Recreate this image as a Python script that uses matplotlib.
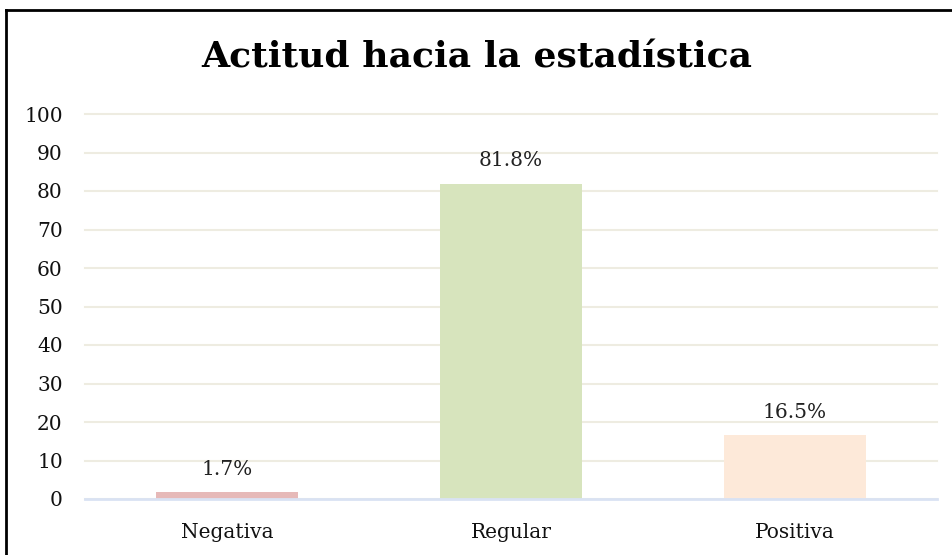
import matplotlib.pyplot as plt
from matplotlib.lines import Line2D

categories = ["Negativa", "Regular", "Positiva"]
values = [1.7, 81.8, 16.5]
labels = ["1.7%", "81.8%", "16.5%"]
colors = ["#E6B9B8", "#D7E4BD", "#FDE9D9"]
yticks = list(range(0, 101, 10))

plt.rcParams["font.family"] = ["DejaVu Serif"]

fig = plt.figure(figsize=(9.52, 5.55), dpi=100)
ax = fig.add_axes([85 / 952, 1 - 499 / 555, 852 / 952, 385 / 555])

x = range(len(categories))
ax.bar(x, values, width=0.5, color=colors, zorder=3)
for xi, v, lab in zip(x, values, labels):
    ax.annotate(lab, (xi, v), xytext=(0, 10), textcoords="offset points",
                ha="center", va="bottom", fontsize=14.5, color="#222222")

ax.set_xlim(-0.5, 2.5)
ax.set_ylim(0, 100)
ax.set_yticks(yticks)
ax.set_xticks(list(x))
ax.set_xticklabels(categories)
ax.tick_params(axis="both", length=0, labelsize=14.5, colors="#111111")
ax.tick_params(axis="y", pad=16)
ax.tick_params(axis="x", pad=17)
ax.grid(axis="y", color="#EEECE1", linewidth=1.5, zorder=0)
for gl in ax.get_ygridlines():
    gl.set_clip_on(False)
for s in ["top", "right", "left"]:
    ax.spines[s].set_visible(False)
ax.spines["bottom"].set_color("#D9E2F3")
ax.spines["bottom"].set_linewidth(2)
ax.spines["bottom"].set_zorder(4)

fig.text(477 / 952, 1 - 57 / 555, "Actitud hacia la estadística",
         ha="center", va="center", fontsize=26, fontweight="bold")

# frame around the chart
fig.add_artist(Line2D([6 / 952, 6 / 952], [0, 1 - 10 / 555],
                      transform=fig.transFigure, color="black", linewidth=2))
fig.add_artist(Line2D([6 / 952, 1], [1 - 10 / 555, 1 - 10 / 555],
                      transform=fig.transFigure, color="black", linewidth=2))

fig.savefig("out.png", dpi=100)
